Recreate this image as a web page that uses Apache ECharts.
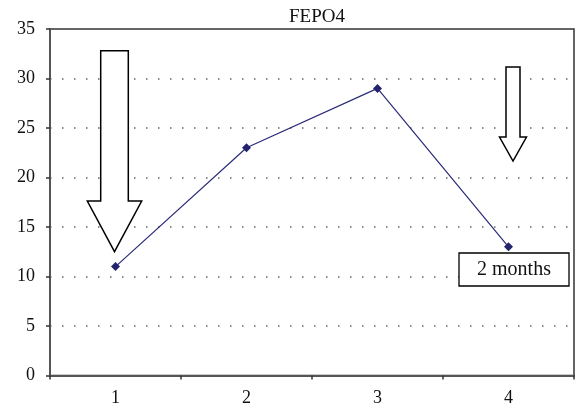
<!DOCTYPE html>
<html>
<head>
<meta charset="utf-8">
<script src="https://cdn.jsdelivr.net/npm/echarts@6/dist/echarts.min.js"></script>
<style>html,body{margin:0;padding:0;background:#fff}#c{width:576px;height:410px}</style>
</head>
<body>
<div id="c"></div>
<script>
const categories = ['1', '2', '3', '4'];
const values = [11, 23, 29, 13];
const yTicks = { min: 0, max: 35, interval: 5 };
const titleText = 'FEPO4';
const noteText = '2 months';

const chart = echarts.init(document.getElementById('c'), null, { renderer: 'canvas' });
const serif = '"Liberation Serif", "DejaVu Serif", serif';
chart.setOption({
  animation: false,
  backgroundColor: '#fff',
  title: {
    text: titleText, left: 312, top: 3, textAlign: 'center',
    textStyle: { fontFamily: serif, fontSize: 19, fontWeight: 'normal', color: '#111' }
  },
  grid: { left: 50, right: 2, top: 29, bottom: 34.5, show: true, borderColor: '#333', borderWidth: 1.5, backgroundColor: 'transparent' },
  xAxis: {
    type: 'category', data: categories, boundaryGap: true,
    axisLine: { lineStyle: { color: '#555', width: 2 } },
    axisTick: { show: true, alignWithLabel: false, length: 4, lineStyle: { color: '#333', width: 1.5 } },
    axisLabel: { fontFamily: serif, fontSize: 18, color: '#111', margin: 14 },
    splitLine: { show: false }
  },
  yAxis: {
    type: 'value', min: yTicks.min, max: yTicks.max, interval: yTicks.interval,
    axisLine: { show: true, lineStyle: { color: '#555', width: 2 } },
    axisTick: { show: true, length: 4, lineStyle: { color: '#333', width: 1.5 } },
    axisLabel: { fontFamily: serif, fontSize: 18, color: '#111', margin: 15 },
    splitLine: { show: true, lineStyle: { color: '#666', width: 1.5, type: [1.5, 10.5] } }
  },
  series: [{
    type: 'line', data: values, symbol: 'diamond', symbolSize: 9,
    lineStyle: { color: '#2b2b7a', width: 1.2 },
    itemStyle: { color: '#23236e' }, z: 5
  }],
  graphic: [
    { type: 'polygon', z: 10, shape: { points: [[100.7,50.7],[128.3,50.7],[128.3,201],[141.7,201],[114.5,251.7],[87.3,201],[100.7,201]] },
      style: { fill: '#fff', stroke: '#000', lineWidth: 1.5 } },
    { type: 'polygon', z: 10, shape: { points: [[506,67],[520,67],[520,137],[526.5,137],[513,161],[499.5,137],[506,137]] },
      style: { fill: '#fff', stroke: '#000', lineWidth: 1.5 } },
    { type: 'rect', z: 10, shape: { x: 459, y: 253, width: 110, height: 33 },
      style: { fill: '#fff', stroke: '#000', lineWidth: 1.3 } },
    { type: 'text', z: 11, x: 514, y: 269.5,
      style: { text: noteText, font: '20px ' + serif, fill: '#111', textAlign: 'center', textVerticalAlign: 'middle' } }
  ]
});
</script>
</body>
</html>
